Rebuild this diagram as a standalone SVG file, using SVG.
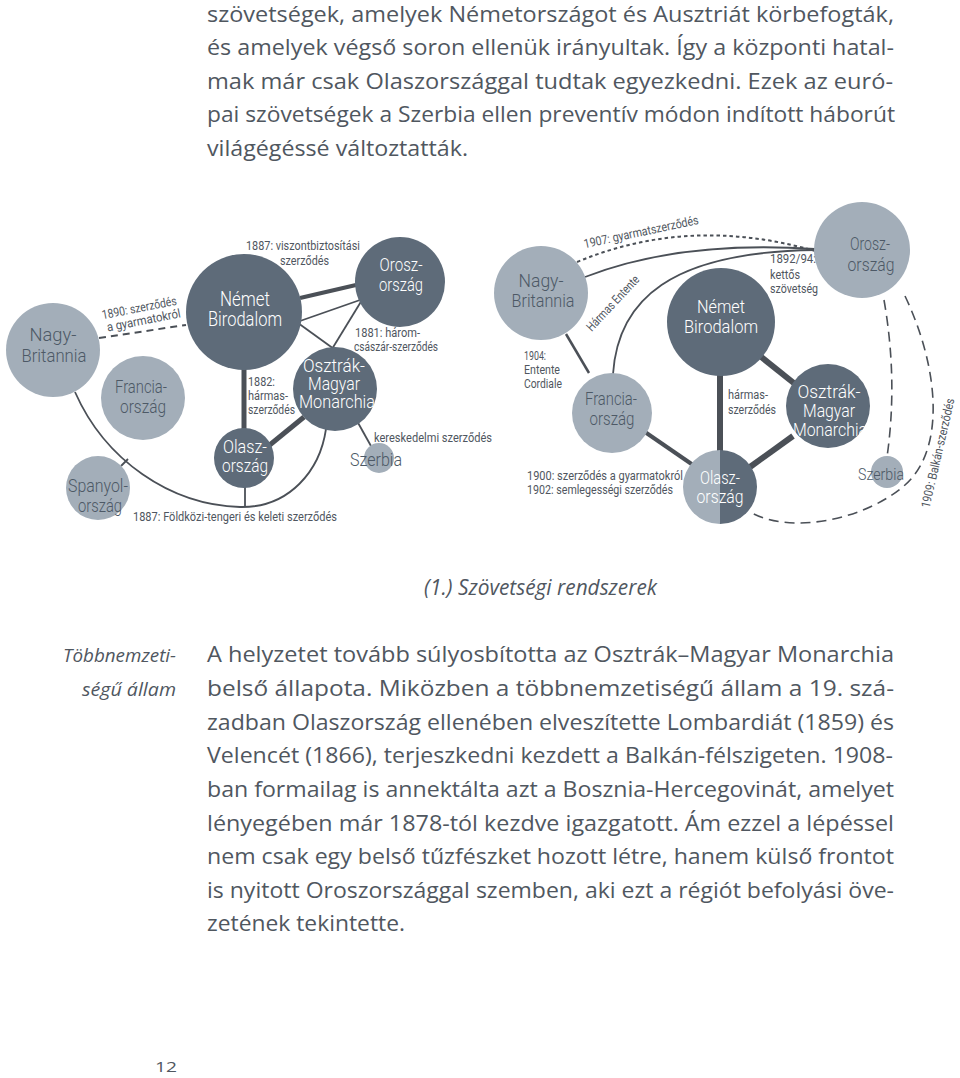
<svg xmlns="http://www.w3.org/2000/svg" width="960" height="1078" viewBox="0 0 960 1078">
<style>
.bg{fill:#ffffff}
.dark{fill:#5e6b79}
.light{fill:#a3aeb9}
.tw{font-family:Roboto,"Liberation Sans",sans-serif;font-weight:300;font-size:19px;fill:#ffffff;text-anchor:middle}
.td{font-family:Roboto,"Liberation Sans",sans-serif;font-weight:300;font-size:19px;fill:#4d5966;text-anchor:middle}
.lb{font-family:Roboto,"Liberation Sans",sans-serif;font-weight:400;font-size:12.5px;fill:#4f5660}
.ln{fill:none;stroke:#4b5057;stroke-width:1.8}
.lt{fill:none;stroke:#4b5057;stroke-width:4.5}
.lm{fill:none;stroke:#4b5057;stroke-width:2.5}
.dash{fill:none;stroke:#4b5057;stroke-width:1.6;stroke-dasharray:10 6}
.dot{fill:none;stroke:#4b5057;stroke-width:2;stroke-dasharray:3.5 3}
.d1890{fill:none;stroke:#4b5057;stroke-width:2;stroke-dasharray:7 5}
.body{font-family:"Open Sans","Noto Sans",sans-serif;font-size:21px;fill:#50575f}
.it{font-family:"Open Sans","Noto Sans",sans-serif;font-size:21px;font-style:italic;fill:#50575f}
</style>
<rect class="bg" x="0" y="0" width="960" height="1078"/>

<g id="top-paragraph">
<text class="body" x="207" y="22" textLength="687" lengthAdjust="spacingAndGlyphs">szövetségek, amelyek Németországot és Ausztriát körbefogták,</text>
<text class="body" x="207" y="55" textLength="687" lengthAdjust="spacingAndGlyphs">és amelyek végső soron ellenük irányultak. Így a központi hatal-</text>
<text class="body" x="207" y="89" textLength="686" lengthAdjust="spacingAndGlyphs">mak már csak Olaszországgal tudtak egyezkedni. Ezek az euró-</text>
<text class="body" x="207" y="122" textLength="688" lengthAdjust="spacingAndGlyphs">pai szövetségek a Szerbia ellen preventív módon indított háborút</text>
<text class="body" x="207" y="156" textLength="261" lengthAdjust="spacingAndGlyphs">világégéssé változtatták.</text>
</g>

<!-- LEFT DIAGRAM -->
<g id="connectors-left">
<path class="d1890" d="M99,338 L186,325"/>
<path class="ln" d="M75,392 C105,460 170,505 240,507 C290,508 320,470 326,429"/>
<path class="ln" d="M121,466 L128,459"/>
<path class="ln" d="M245,486 L245,507"/>
<path class="lt" d="M300,298 L356,285" style="stroke-width:4"/>
<path class="ln" d="M300,321 L360,300"/>
<path class="ln" d="M298,323 L334,349"/>
<path class="ln" d="M362,300 L332,349"/>
<path class="lt" d="M244,368 L244,430" style="stroke-width:5"/>
<path class="lt" d="M266,448 L304,417" style="stroke-width:5"/>
<path class="ln" d="M357,421 L371,446"/>
</g>

<g id="node-L-nagybritannia">
<circle class="light" cx="53" cy="350" r="47"/>
<text class="td" x="53" y="341" textLength="47" lengthAdjust="spacingAndGlyphs">Nagy-</text>
<text class="td" x="54" y="362" textLength="65" lengthAdjust="spacingAndGlyphs">Britannia</text>
</g>
<g id="node-L-franciaorszag">
<circle class="light" cx="143" cy="398" r="42"/>
<text class="td" x="141" y="393" textLength="52" lengthAdjust="spacingAndGlyphs">Francia-</text>
<text class="td" x="143" y="413" textLength="46" lengthAdjust="spacingAndGlyphs">ország</text>
</g>
<g id="node-L-spanyolorszag">
<circle class="light" cx="98" cy="488" r="32"/>
<text class="td" x="98" y="492" textLength="60" lengthAdjust="spacingAndGlyphs">Spanyol-</text>
<text class="td" x="100" y="512" textLength="44" lengthAdjust="spacingAndGlyphs">ország</text>
</g>
<g id="node-L-nemet">
<circle class="dark" cx="244" cy="312" r="58"/>
<text class="tw" x="245" y="306" style="font-size:20px" textLength="50" lengthAdjust="spacingAndGlyphs">Német</text>
<text class="tw" x="245" y="326" style="font-size:20px" textLength="74" lengthAdjust="spacingAndGlyphs">Birodalom</text>
</g>
<g id="node-L-oroszorszag">
<circle class="dark" cx="400" cy="282" r="45"/>
<text class="tw" x="401" y="271" textLength="43" lengthAdjust="spacingAndGlyphs">Orosz-</text>
<text class="tw" x="401" y="291" textLength="44" lengthAdjust="spacingAndGlyphs">ország</text>
</g>
<g id="node-L-osztrak">
<circle class="dark" cx="335" cy="389" r="42"/>
<text class="tw" x="334" y="372" textLength="62" lengthAdjust="spacingAndGlyphs">Osztrák-</text>
<text class="tw" x="334" y="390" textLength="52" lengthAdjust="spacingAndGlyphs">Magyar</text>
<text class="tw" x="337" y="408" textLength="76" lengthAdjust="spacingAndGlyphs">Monarchia</text>
</g>
<g id="node-L-olaszorszag">
<circle class="dark" cx="244" cy="458" r="30"/>
<text class="tw" x="245" y="453" textLength="44" lengthAdjust="spacingAndGlyphs">Olasz-</text>
<text class="tw" x="245" y="472" textLength="46" lengthAdjust="spacingAndGlyphs">ország</text>
</g>
<g id="node-L-szerbia">
<circle class="light" cx="379" cy="458" r="15"/>
<text class="td" x="350" y="466" style="text-anchor:start;font-size:19px" textLength="52" lengthAdjust="spacingAndGlyphs">Szerbia</text>
</g>

<g id="labels-left">
<text class="lb" x="246" y="250" textLength="114" lengthAdjust="spacingAndGlyphs">1887: viszontbiztosítási</text>
<text class="lb" x="280" y="265" textLength="49" lengthAdjust="spacingAndGlyphs">szerződés</text>
<text class="lb" x="355" y="337" textLength="65" lengthAdjust="spacingAndGlyphs">1881: három-</text>
<text class="lb" x="354" y="351" textLength="84" lengthAdjust="spacingAndGlyphs">császár-szerződés</text>
<text class="lb" x="248" y="386" textLength="27" lengthAdjust="spacingAndGlyphs">1882:</text>
<text class="lb" x="248" y="400" textLength="40" lengthAdjust="spacingAndGlyphs">hármas-</text>
<text class="lb" x="248" y="414" textLength="47" lengthAdjust="spacingAndGlyphs">szerződés</text>
<text class="lb" x="374" y="442" textLength="118" lengthAdjust="spacingAndGlyphs">kereskedelmi szerződés</text>
<text class="lb" x="133" y="521" textLength="204" lengthAdjust="spacingAndGlyphs">1887: Földközi-tengeri és keleti szerződés</text>
<g transform="translate(140,312) rotate(-11)">
<text class="lb" x="0" y="0" text-anchor="middle" textLength="76" lengthAdjust="spacingAndGlyphs">1890: szerződés</text>
<text class="lb" x="2" y="13" text-anchor="middle" textLength="75" lengthAdjust="spacingAndGlyphs">a gyarmatokról</text>
</g>
</g>

<!-- RIGHT DIAGRAM -->
<g id="connectors-right">
<path class="dot" d="M577,262 Q690,215 815,251"/>
<path class="ln" d="M585,277 Q680,240 815,249"/>
<path class="ln" d="M613,374 C618,300 670,252 815,250"/>
<path class="lm" d="M566,334 L589,373"/>
<path class="lt" d="M645,432 L693,465" style="stroke-width:4"/>
<path class="lt" d="M720,374 L720,452" style="stroke-width:6"/>
<path class="lt" d="M760,356 L795,384" style="stroke-width:6"/>
<path class="lt" d="M750,467 L793,436" style="stroke-width:6"/>
<path class="dash" d="M884,300 Q898,380 887,457"/>
<path class="dash" d="M905,296 C940,370 945,450 905,485 C865,520 790,535 750,512"/>
</g>

<g id="labels-right">
<text class="lb" transform="translate(642,236) rotate(-12)" text-anchor="middle" textLength="117" lengthAdjust="spacingAndGlyphs">1907: gyarmatszerződés</text>
<text class="lb" transform="translate(616,306) rotate(-47)" text-anchor="middle" textLength="71" lengthAdjust="spacingAndGlyphs">Hármas Entente</text>
<text class="lb" x="770" y="263" textLength="46" lengthAdjust="spacingAndGlyphs">1892/94:</text>
<text class="lb" x="770" y="279" textLength="30" lengthAdjust="spacingAndGlyphs">kettős</text>
<text class="lb" x="770" y="293" textLength="48" lengthAdjust="spacingAndGlyphs">szövetség</text>
<text class="lb" x="524" y="360" textLength="22" lengthAdjust="spacingAndGlyphs">1904:</text>
<text class="lb" x="524" y="374" textLength="36" lengthAdjust="spacingAndGlyphs">Entente</text>
<text class="lb" x="524" y="388" textLength="38" lengthAdjust="spacingAndGlyphs">Cordiale</text>
<text class="lb" x="527" y="480" textLength="156" lengthAdjust="spacingAndGlyphs">1900: szerződés a gyarmatokról</text>
<text class="lb" x="527" y="494" textLength="146" lengthAdjust="spacingAndGlyphs">1902: semlegességi szerződés</text>
<text class="lb" x="728" y="399" textLength="40" lengthAdjust="spacingAndGlyphs">hármas-</text>
<text class="lb" x="728" y="414" textLength="48" lengthAdjust="spacingAndGlyphs">szerződés</text>
<text class="lb" transform="translate(942,454) rotate(-77)" text-anchor="middle" textLength="112" lengthAdjust="spacingAndGlyphs">1909: Balkán-szerződés</text>
</g>

<g id="node-R-nagybritannia">
<circle class="light" cx="541" cy="293" r="47"/>
<text class="td" x="541" y="287" textLength="45" lengthAdjust="spacingAndGlyphs">Nagy-</text>
<text class="td" x="543" y="307" textLength="63" lengthAdjust="spacingAndGlyphs">Britannia</text>
</g>
<g id="node-R-franciaorszag">
<circle class="light" cx="612" cy="413" r="40"/>
<text class="td" x="611" y="405" textLength="52" lengthAdjust="spacingAndGlyphs">Francia-</text>
<text class="td" x="612" y="425" textLength="45" lengthAdjust="spacingAndGlyphs">ország</text>
</g>
<g id="node-R-nemet">
<circle class="dark" cx="721" cy="322" r="54"/>
<text class="tw" x="721" y="313" textLength="48" lengthAdjust="spacingAndGlyphs">Német</text>
<text class="tw" x="721" y="333" textLength="74" lengthAdjust="spacingAndGlyphs">Birodalom</text>
</g>
<g id="node-R-osztrak">
<circle class="dark" cx="828" cy="406" r="42"/>
<text class="tw" x="829" y="398" textLength="63" lengthAdjust="spacingAndGlyphs">Osztrák-</text>
<text class="tw" x="829" y="417" textLength="52" lengthAdjust="spacingAndGlyphs">Magyar</text>
<text class="tw" x="830" y="436" textLength="74" lengthAdjust="spacingAndGlyphs">Monarchia</text>
</g>
<g id="node-R-olaszorszag">
<path class="light" d="M720,450 A37,37 0 0 0 720,524 Z"/>
<path class="dark" d="M720,450 A37,37 0 0 1 720,524 Z"/>
<text class="tw" x="720" y="484" textLength="40" lengthAdjust="spacingAndGlyphs">Olasz-</text>
<text class="tw" x="720" y="503" textLength="47" lengthAdjust="spacingAndGlyphs">ország</text>
</g>
<g id="node-R-oroszorszag">
<circle class="light" cx="862" cy="250" r="48"/>
<text class="td" x="870" y="250" textLength="40" lengthAdjust="spacingAndGlyphs">Orosz-</text>
<text class="td" x="871" y="271" textLength="47" lengthAdjust="spacingAndGlyphs">ország</text>
</g>
<g id="node-R-szerbia">
<circle class="light" cx="887" cy="472" r="16"/>
<text class="td" x="858" y="480" style="text-anchor:start;font-size:17px" textLength="46" lengthAdjust="spacingAndGlyphs">Szerbia</text>
</g>

<g id="caption">
<text class="it" x="424" y="595" textLength="233" lengthAdjust="spacingAndGlyphs">(1.) Szövetségi rendszerek</text>
</g>

<g id="margin-note">
<text class="it" x="176" y="662" style="font-size:18px;text-anchor:end" textLength="113" lengthAdjust="spacingAndGlyphs">Többnemzeti-</text>
<text class="it" x="176" y="696" style="font-size:18px;text-anchor:end" textLength="94" lengthAdjust="spacingAndGlyphs">ségű állam</text>
</g>

<g id="body-paragraph">
<text class="body" x="207" y="662" textLength="687" lengthAdjust="spacingAndGlyphs">A helyzetet tovább súlyosbította az Osztrák–Magyar Monarchia</text>
<text class="body" x="207" y="696" textLength="687" lengthAdjust="spacingAndGlyphs">belső állapota. Miközben a többnemzetiségű állam a 19. szá-</text>
<text class="body" x="207" y="730" textLength="687" lengthAdjust="spacingAndGlyphs">zadban Olaszország ellenében elveszítette Lombardiát (1859) és</text>
<text class="body" x="207" y="763" textLength="686" lengthAdjust="spacingAndGlyphs">Velencét (1866), terjeszkedni kezdett a Balkán-félszigeten. 1908-</text>
<text class="body" x="207" y="797" textLength="687" lengthAdjust="spacingAndGlyphs">ban formailag is annektálta azt a Bosznia-Hercegovinát, amelyet</text>
<text class="body" x="207" y="831" textLength="687" lengthAdjust="spacingAndGlyphs">lényegében már 1878-tól kezdve igazgatott. Ám ezzel a lépéssel</text>
<text class="body" x="207" y="864" textLength="687" lengthAdjust="spacingAndGlyphs">nem csak egy belső tűzfészket hozott létre, hanem külső frontot</text>
<text class="body" x="207" y="898" textLength="687" lengthAdjust="spacingAndGlyphs">is nyitott Oroszországgal szemben, aki ezt a régiót befolyási öve-</text>
<text class="body" x="207" y="931" textLength="198" lengthAdjust="spacingAndGlyphs">zetének tekintette.</text>
</g>

<g id="page-number">
<text class="body" x="155" y="1072" style="font-size:15px" textLength="22" lengthAdjust="spacingAndGlyphs">12</text>
</g>
</svg>
